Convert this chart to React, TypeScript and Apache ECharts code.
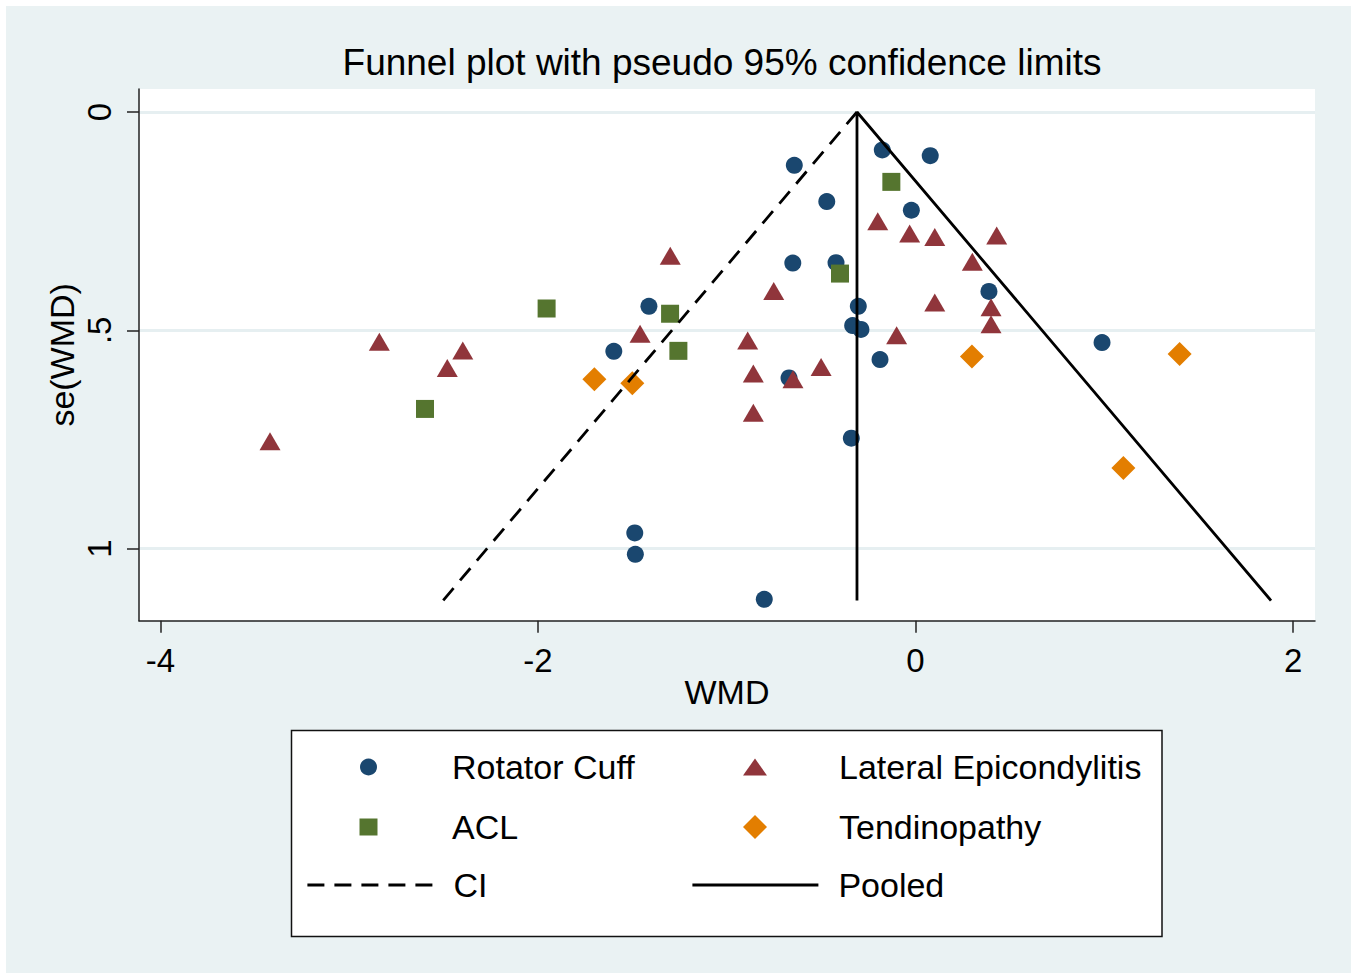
import React, { useEffect, useRef } from 'react';
import * as echarts from 'echarts';

const FONT = '"Liberation Sans", Arial, Helvetica, sans-serif';

// [WMD, se(WMD)]
const rotatorCuff: number[][] = [
  [-0.642, 0.122], [-0.176, 0.087], [0.078, 0.1], [-0.47, 0.205], [-0.022, 0.225],
  [-0.65, 0.346], [-0.421, 0.345], [-1.412, 0.445], [-0.303, 0.445], [-0.333, 0.489],
  [-0.289, 0.498], [0.389, 0.411], [-1.598, 0.548], [-0.188, 0.567], [-0.67, 0.609],
  [-0.34, 0.747], [-1.487, 0.964], [-1.484, 1.013], [-0.801, 1.116], [0.988, 0.528],
];
const lateralEpicondylitis: number[][] = [
  [-2.84, 0.526], [-3.419, 0.754], [-2.398, 0.546], [-2.48, 0.586], [-1.299, 0.329],
  [-0.2, 0.25], [-0.031, 0.278], [0.102, 0.286], [0.43, 0.283], [0.301, 0.343],
  [-0.751, 0.41], [0.102, 0.436], [0.4, 0.447], [0.4, 0.486], [-1.459, 0.508],
  [-0.1, 0.511], [-0.889, 0.523], [-0.859, 0.599], [-0.649, 0.612], [-0.5, 0.584],
  [-0.859, 0.689],
];
const acl: number[][] = [
  [-1.954, 0.45], [-2.598, 0.68], [-0.128, 0.16], [-0.4, 0.37], [-1.3, 0.462], [-1.256, 0.547],
];
const tendinopathy: number[][] = [
  [-1.701, 0.612], [-1.5, 0.621], [0.299, 0.56], [1.399, 0.554], [1.101, 0.815],
];
// funnel lines
const ciLine: number[][] = [[-0.31, 0], [-2.503, 1.119]];
const pooledLine: number[][] = [[-0.31, 1.119], [-0.31, 0], [1.883, 1.119]];

const xTickValues = [-4, -2, 0, 2];
const xTickLabels = ['-4', '-2', '0', '2'];
const yTickValues = [0, 0.5, 1];
const yTickLabels = ['0', '.5', '1'];
const xRange = [-4.113, 2.116];
const yRange = [-0.0527, 1.165];

const C_BLUE = '#1a476f';
const C_RED = '#90353b';
const C_GREEN = '#55752f';
const C_ORANGE = '#e37e00';

function lookup(values: number[], labels: string[], v: number) {
  for (let i = 0; i < values.length; i++) if (Math.abs(values[i] - v) < 1e-9) return labels[i];
  return '';
}

// iconCenter: x of icon centre, textX: x where text starts
function legendItem(name: string, iconCenter: number, textX: number, rowCenter: number,
  itemWidth: number, itemHeight: number, extra: any = {}) {
  const left = iconCenter - itemWidth / 2;
  const pad = textX - (left + itemWidth + 5);
  return {
    show: true,
    left,
    top: rowCenter - 17,
    padding: 0,
    itemWidth,
    itemHeight,
    selectedMode: false,
    formatter: '{t|{name}}',
    textStyle: {
      fontFamily: FONT,
      fontSize: 34,
      color: '#000',
      rich: { t: { fontFamily: FONT, fontSize: 34, color: '#000', lineHeight: 34, padding: [0, 0, 0, pad] } },
    },
    ...extra,
    data: [{ name, ...(extra.icon ? { icon: extra.icon } : {}) }],
  };
}

export default function App() {
  const ref = useRef<HTMLDivElement>(null);
  useEffect(() => {
    if (!ref.current) return;
    const chart = echarts.init(ref.current, undefined, { renderer: 'svg' });
    const axisLineStyle = { color: '#222', width: 1.5 };
    const hiddenItem = { color: 'rgba(0,0,0,0)', borderColor: 'rgba(0,0,0,0)', borderWidth: 0 };
    const option: any = {
      animation: false,
      backgroundColor: '#ffffff',
      title: {
        text: 'Funnel plot with pseudo 95% confidence limits',
        left: 722,
        top: 44,
        textAlign: 'center',
        padding: 0,
        textStyle: { fontFamily: FONT, fontSize: 37, fontWeight: 'normal', color: '#000' },
      },
      graphic: [
        {
          type: 'rect', z: -10, silent: true,
          shape: { x: 6, y: 6, width: 1345, height: 967 },
          style: { fill: '#eaf2f3' },
        },
        {
          type: 'rect', z: -5, silent: true,
          shape: { x: 291.5, y: 730.5, width: 870.5, height: 206 },
          style: { fill: '#ffffff', stroke: '#111', lineWidth: 1.5 },
        },
      ],
      grid: {
        left: 139, top: 89, width: 1176, height: 531.7,
        show: true, backgroundColor: '#ffffff', borderWidth: 0,
        containLabel: false,
      },
      legend: [
        legendItem('Rotator Cuff', 368.5, 452, 767, 17, 17, { icon: 'circle' }),
        legendItem('ACL', 368.5, 452, 827, 18, 17, { icon: 'rect' }),
        legendItem('CI', 369, 452, 885, 126, 17, {
          itemStyle: hiddenItem,
          lineStyle: { color: '#000', width: 2.8, type: [17, 10] },
        }),
        legendItem('Lateral Epicondylitis', 755, 839, 767, 24, 17, { icon: 'path://M12,0L24,17L0,17Z' }),
        legendItem('Tendinopathy', 755, 839, 827, 24, 24, { icon: 'path://M12,0L24,12L12,24L0,12Z' }),
        legendItem('Pooled', 754, 837, 885, 126, 17, {
          itemStyle: hiddenItem,
          lineStyle: { color: '#000', width: 2.8, type: 'solid' },
        }),
      ],
      xAxis: {
        type: 'value',
        min: xRange[0],
        max: xRange[1],
        name: 'WMD',
        nameLocation: 'middle',
        nameGap: 54,
        nameMoveOverlap: false,
        nameTextStyle: { fontFamily: FONT, fontSize: 34, color: '#000', lineHeight: 34 },
        axisLine: { show: true, onZero: false, lineStyle: axisLineStyle },
        axisTick: { show: true, length: 12, inside: false, customValues: xTickValues, lineStyle: axisLineStyle },
        axisLabel: {
          customValues: xTickValues,
          margin: 23,
          fontFamily: FONT, fontSize: 33, color: '#000', lineHeight: 33,
          formatter: (v: number) => lookup(xTickValues, xTickLabels, v),
        },
        splitLine: { show: false },
      },
      yAxis: {
        type: 'value',
        inverse: true,
        min: yRange[0],
        max: yRange[1],
        name: 'se(WMD)',
        nameLocation: 'middle',
        nameGap: 60,
        nameMoveOverlap: false,
        nameTextStyle: { fontFamily: FONT, fontSize: 34, color: '#000', lineHeight: 34 },
        axisLine: { show: true, onZero: false, lineStyle: axisLineStyle },
        axisTick: { show: true, length: 12, inside: false, customValues: yTickValues, lineStyle: axisLineStyle },
        axisLabel: {
          customValues: yTickValues,
          rotate: 90,
          margin: 23,
          fontFamily: FONT, fontSize: 33, color: '#000', lineHeight: 33,
          formatter: (v: number) => lookup(yTickValues, yTickLabels, v),
        },
        splitLine: { show: true, lineStyle: { color: '#e6eff1', width: 3 } },
      },
      series: [
        {
          name: 'Rotator Cuff', type: 'scatter', data: rotatorCuff,
          symbol: 'circle', symbolSize: 17, itemStyle: { color: C_BLUE, opacity: 1 }, z: 2, silent: true,
        },
        {
          name: 'Lateral Epicondylitis', type: 'scatter', data: lateralEpicondylitis,
          symbol: 'triangle', symbolSize: [21, 18], itemStyle: { color: C_RED, opacity: 1 }, z: 2, silent: true,
        },
        {
          name: 'ACL', type: 'scatter', data: acl,
          symbol: 'rect', symbolSize: 18, itemStyle: { color: C_GREEN, opacity: 1 }, z: 2, silent: true,
        },
        {
          name: 'Tendinopathy', type: 'scatter', data: tendinopathy,
          symbol: 'diamond', symbolSize: [24, 24], itemStyle: { color: C_ORANGE, opacity: 1 }, z: 2, silent: true,
        },
        {
          name: 'CI', type: 'line', data: ciLine, symbol: 'none', showSymbol: false, z: 3, silent: true,
          itemStyle: { color: '#000' },
          lineStyle: { color: '#000', width: 2.8, type: [16, 10] },
        },
        {
          name: 'Pooled', type: 'line', data: pooledLine, symbol: 'none', showSymbol: false, z: 3, silent: true,
          itemStyle: { color: '#000' },
          lineStyle: { color: '#000', width: 2.8, type: 'solid' },
        },
      ],
    };
    chart.setOption(option);
    return () => chart.dispose();
  }, []);
  return <div ref={ref} style={{ position: 'fixed', left: 0, top: 0, width: 1357, height: 979 }} />;
}
